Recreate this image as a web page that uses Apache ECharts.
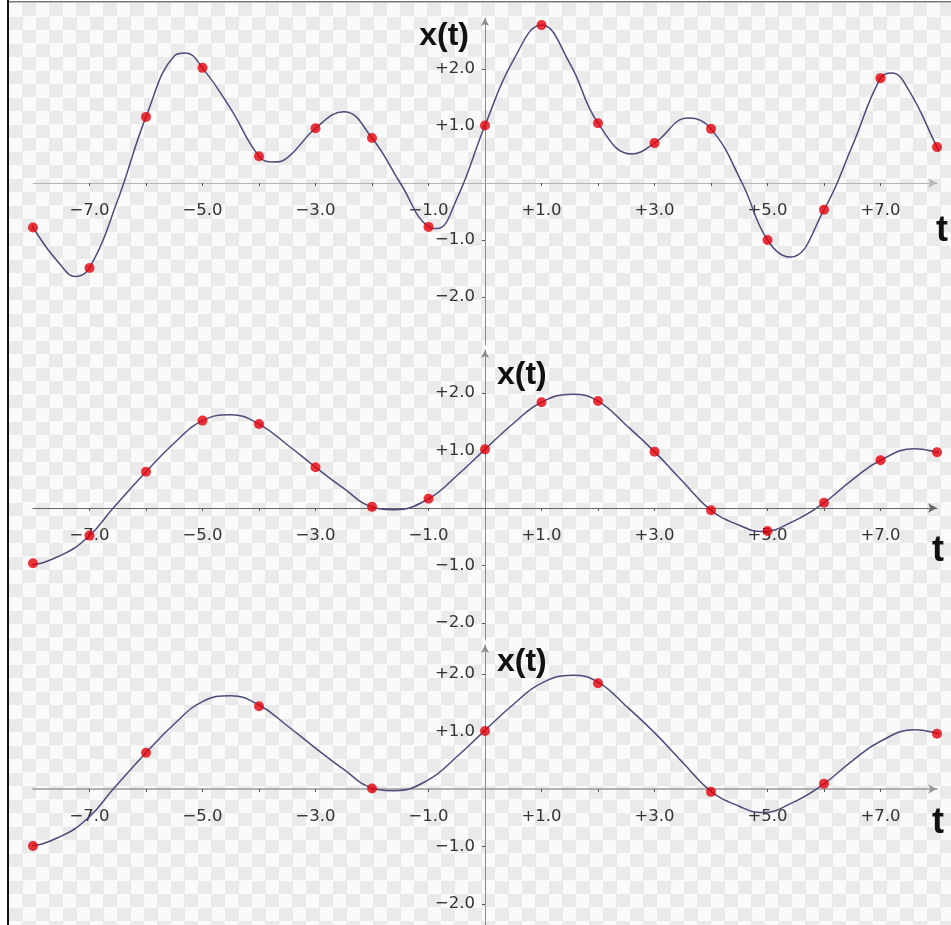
<!DOCTYPE html>
<html><head><meta charset="utf-8">
<script src="https://cdn.jsdelivr.net/npm/echarts@6/dist/echarts.min.js"></script>
<style>
html,body{margin:0;padding:0;background:#fff;}
#bg{position:absolute;left:9px;top:3px;width:942px;height:922px;
background: repeating-conic-gradient(#eaeaea 0% 25%, #fafafa 0% 50%) 0 0 / 27px 27px;}
#chart{position:absolute;left:0;top:0;width:951px;height:925px;}
</style></head><body>
<div id="bg"></div><div id="chart"></div>
<script>
// ---- data ----
const sampleT1 = [-8,-7,-6,-5,-4,-3,-2,-1,0,1,2,3,4,5,6,7,8];
const samples1 = [-0.78,-1.49,1.16,2.02,0.47,0.96,0.79,-0.77,1.01,2.77,1.05,0.70,0.95,-1.00,-0.47,1.84,0.63];
const curveT1 = [-8.33,-8,-7.5,-7.25,-7,-6.5,-6,-5.5,-5.3,-5,-4.5,-4,-3.75,-3.5,-3,-2.5,-2,-1.5,-1,-0.85,-0.5,0,0.5,1,1.5,2,2.6,3,3.6,4,4.55,5,5.4,6,6.5,7,7.2,7.5,8,8.25];
const curve1  = [-0.18,-0.78,-1.45,-1.64,-1.49,-0.30,1.16,2.23,2.28,2.02,1.30,0.47,0.37,0.44,0.96,1.25,0.79,0.00,-0.77,-0.80,-0.28,1.01,2.15,2.77,2.10,1.05,0.51,0.70,1.14,0.95,0.00,-1.00,-1.30,-0.47,0.65,1.84,1.93,1.63,0.63,0.14];

const sampleT2 = [-8,-7,-6,-5,-4,-3,-2,-1,0,1,2,3,4,5,6,7,8];
const samples2 = [-0.96,-0.48,0.63,1.52,1.46,0.71,0.02,0.16,1.02,1.84,1.86,0.98,-0.04,-0.40,0.09,0.83,0.97];
const curveT2 = [-8.32,-8.15,-7.5,-7,-6.58,-6,-5.5,-5,-4.5,-4,-3.5,-3,-2.5,-2,-1.6,-1,-0.5,0,0.5,1,1.55,2,2.5,3,3.5,4,4.5,4.9,5.5,6,6.5,7,7.6,8,8.25];
const curve2  = [-0.97,-0.99,-0.82,-0.48,0.00,0.63,1.13,1.52,1.62,1.46,1.10,0.71,0.34,0.02,-0.03,0.16,0.56,1.02,1.47,1.84,1.98,1.86,1.44,0.98,0.46,-0.04,-0.30,-0.41,-0.21,0.09,0.49,0.83,1.03,0.97,0.89];

const sampleT3 = [-8,-6,-4,-2,0,2,4,6,8];
const samples3 = [-0.99,0.63,1.44,0.01,1.01,1.84,-0.05,0.09,0.96];
const curveT3 = curveT2;
const curve3  = curve2;

const xTickValues  = [-7,-6,-5,-4,-3,-2,-1,1,2,3,4,5,6,7];
const xLabelValues = [-7,-5,-3,-1,1,3,5,7];
const yTickValues  = [-2,-1,1,2];
const yLabelValues = [-2,-1,1,2];

// ---- layout ----
const GL = 33, GW = 904, XMIN = -8, XMAX = 8;
const panels = [
  {top:18,  height:327, ymin:-2.842, ymax:2.895, xLine:'#b4b4b4', xW:1,   curveT:curveT1, curve:curve1, sT:sampleT1, s:samples1},
  {top:350, height:290, ymin:-2.296, ymax:2.748, xLine:'#666666', xW:1.2, curveT:curveT2, curve:curve2, sT:sampleT2, s:samples2},
  {top:645, height:280, ymin:-2.365, ymax:2.504, xLine:'#9a9a9a', xW:1.6, curveT:curveT3, curve:curve3, sT:sampleT3, s:samples3}
];
const fmt = v => (v > 0 ? '+' : '\u2212') + Math.abs(v).toFixed(1);
const zip = (a,b) => a.map((t,i)=>[t,b[i]]);
const labelStyle = {fontFamily:'DejaVu Sans', fontSize:16.5, color:'#333'};
const zeroXpx = GL + GW * (0 - XMIN) / (XMAX - XMIN);

const grid=[], xAxis=[], yAxis=[], series=[];
panels.forEach((p,i)=>{
  const zeroYpx = p.top + p.height * p.ymax / (p.ymax - p.ymin);
  const bottomPx = p.top + p.height;
  grid.push({left:GL, width:GW, top:p.top, height:p.height, containLabel:false, outerBoundsMode:'none'});
  xAxis.push({type:'value', gridIndex:i, min:XMIN, max:XMAX, position:'bottom', offset:-(bottomPx - zeroYpx),
    axisLine:{onZero:false, lineStyle:{color:p.xLine, width:p.xW}, symbol:['none','arrow'], symbolSize:[7,9]},
    axisTick:{show:true, customValues:xTickValues, length:3, lineStyle:{color:'#555'}},
    axisLabel:Object.assign({customValues:xLabelValues, formatter:fmt, margin:19}, labelStyle),
    splitLine:{show:false}});
  yAxis.push({type:'value', gridIndex:i, min:p.ymin, max:p.ymax, position:'left', offset:-(zeroXpx - GL),
    axisLine:{onZero:false, lineStyle:{color:'#8a8a8a', width:1}, symbol:['none','arrow'], symbolSize:[6,8]},
    axisTick:{show:true, customValues:yTickValues, length:3, lineStyle:{color:'#555'}},
    axisLabel:Object.assign({customValues:yLabelValues, formatter:fmt, margin:10}, labelStyle),
    splitLine:{show:false}});
  series.push({type:'line', xAxisIndex:i, yAxisIndex:i, data:zip(p.curveT,p.curve), smooth:0.45,
    symbol:'none', clip:false, lineStyle:{color:'#4a4d78', width:1.5}, z:2, silent:true});
  series.push({type:'scatter', xAxisIndex:i, yAxisIndex:i, data:zip(p.sT,p.s), symbolSize:10, clip:false,
    itemStyle:{color:'#e6000a'}, z:3, silent:true});
});

const nameStyle = {fontFamily:'Liberation Sans', fontWeight:'bold', fill:'#111'};
const graphic = [
  {type:'rect', left:7, top:0, shape:{width:2, height:925}, style:{fill:'#111'}},
  {type:'rect', left:9, top:1, shape:{width:942, height:1.5}, style:{fill:'#777'}},
  {type:'text', x:469, y:36, style:Object.assign({text:'x(t)', fontSize:32, align:'right', verticalAlign:'middle'}, nameStyle)},
  {type:'text', x:497, y:375, style:Object.assign({text:'x(t)', fontSize:32, align:'left', verticalAlign:'middle'}, nameStyle)},
  {type:'text', x:497, y:662, style:Object.assign({text:'x(t)', fontSize:32, align:'left', verticalAlign:'middle'}, nameStyle)},
  {type:'text', x:942, y:231, style:Object.assign({text:'t', fontSize:36, align:'center', verticalAlign:'middle'}, nameStyle)},
  {type:'text', x:938, y:551, style:Object.assign({text:'t', fontSize:36, align:'center', verticalAlign:'middle'}, nameStyle)},
  {type:'text', x:938, y:823, style:Object.assign({text:'t', fontSize:36, align:'center', verticalAlign:'middle'}, nameStyle)}
];

const chart = echarts.init(document.getElementById('chart'), null, {renderer:'canvas'});
chart.setOption({backgroundColor:'transparent', animation:false, grid, xAxis, yAxis, series, graphic});
</script>
</body></html>
